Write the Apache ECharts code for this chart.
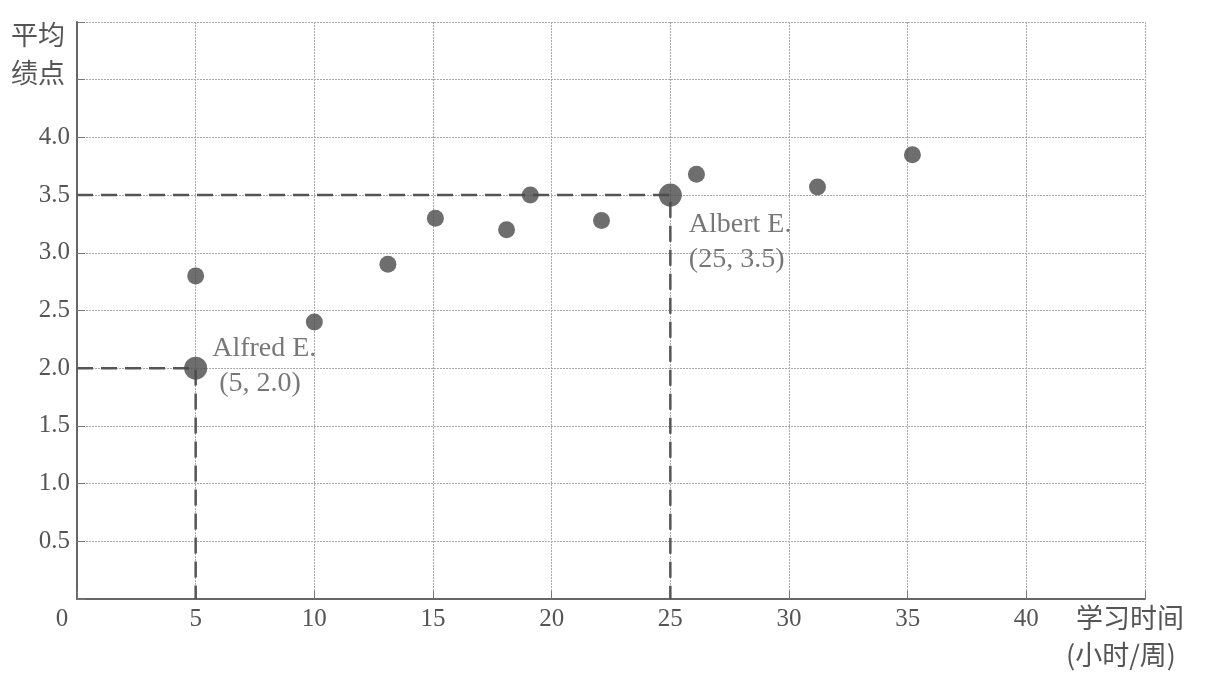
<!DOCTYPE html>
<html><head><meta charset="utf-8">
<script src="https://cdn.jsdelivr.net/npm/echarts@6/dist/echarts.min.js"></script>
<style>html,body{margin:0;padding:0;background:#fff}#c{width:1205px;height:678px}</style>
</head><body><div id="c"></div>
<script>
const hours = [5, 10, 13.1, 15.1, 18.1, 19.1, 22.1, 26.1, 31.2, 35.2];
const gpa   = [2.8, 2.4, 2.9, 3.3, 3.2, 3.5, 3.28, 3.68, 3.57, 3.85];
const highlightNames = ['Alfred E.', 'Albert E.'];
const highlightHours = [5, 25];
const highlightGpa   = [2.0, 3.5];
const xTicks = [0, 5, 10, 15, 20, 25, 30, 35, 40];
const yTickLabels = ['0.5', '1.0', '1.5', '2.0', '2.5', '3.0', '3.5', '4.0'];

const FONT = 'Liberation Serif';
const GREY = '#555';
const CJK = '"Noto Sans CJK SC"';
const chart = echarts.init(document.getElementById('c'));

const guideSeries = [];
highlightHours.forEach((h, i) => {
  guideSeries.push({
    type: 'line', silent: true, symbol: 'none', z: 1,
    lineStyle: {color: '#555', width: 2.5, type: [16, 8]},
    data: [[0, highlightGpa[i]], [h, highlightGpa[i]], [h, 0]]
  });
});

chart.setOption({
  animation: false,
  grid: {left: 77, right: 60, top: 22, bottom: 79},
  xAxis: {
    type: 'value', min: 0, max: 45, interval: 5,
    axisLine: {show: true, onZero: false, lineStyle: {color: '#666', width: 2}},
    axisTick: {show: true, inside: true, length: 8, lineStyle: {color: '#777'}},
    splitLine: {show: true, lineStyle: {color: '#aaa', width: 1, type: [2, 1]}},
    axisLabel: {
      color: GREY, fontFamily: FONT, fontSize: 25, margin: 8,
      formatter: v => xTicks.indexOf(v) < 0 ? '' : (v === 0 ? '{o|0}' : String(v)),
      rich: {o: {color: GREY, fontFamily: FONT, fontSize: 25, padding: [0, 30, 0, 0]}}
    }
  },
  yAxis: {
    type: 'value', min: 0, max: 5, interval: 0.5,
    axisLine: {show: true, onZero: false, lineStyle: {color: '#666', width: 2}},
    axisTick: {show: true, inside: true, length: 8, lineStyle: {color: '#777'}},
    splitLine: {show: true, lineStyle: {color: '#aaa', width: 1, type: [2, 1]}},
    axisLabel: {
      color: GREY, fontFamily: FONT, fontSize: 25, margin: 7,
      formatter: v => { const s = v.toFixed(1); return yTickLabels.indexOf(s) >= 0 ? s : ''; }
    }
  },
  graphic: [
    {type: 'text', left: 11, top: 16, style: {text: '平均\n绩点', font: '27px ' + CJK, fill: '#555', lineHeight: 38}},
    {type: 'text', left: 1076, top: 604, style: {text: '学习时间', font: '27px ' + CJK, fill: '#555'}},
    {type: 'text', left: 1066, top: 641, style: {text: '(小时/周)', font: '27px ' + CJK, fill: '#555'}}
  ],
  series: [
    ...guideSeries,
    {
      type: 'scatter', symbolSize: 17, z: 3,
      itemStyle: {color: '#4a4a4a'},
      data: hours.map((h, i) => [h, gpa[i]])
    },
    {
      type: 'scatter', symbolSize: 23, z: 4,
      itemStyle: {color: '#4a4a4a'},
      data: highlightHours.map((h, i) => ({
        value: [h, highlightGpa[i]],
        label: {
          show: true, position: 'right',
          offset: i === 0 ? [0, -2] : [2, 47],
          align: 'left',
          formatter: highlightNames[i] + '\n' + (i === 0 ? ' ' : '') + '(' + h + ', ' + highlightGpa[i].toFixed(1) + ')',
          color: GREY, fontFamily: FONT, fontSize: 28, lineHeight: 35
        }
      }))
    }
  ]
});
</script></body></html>
